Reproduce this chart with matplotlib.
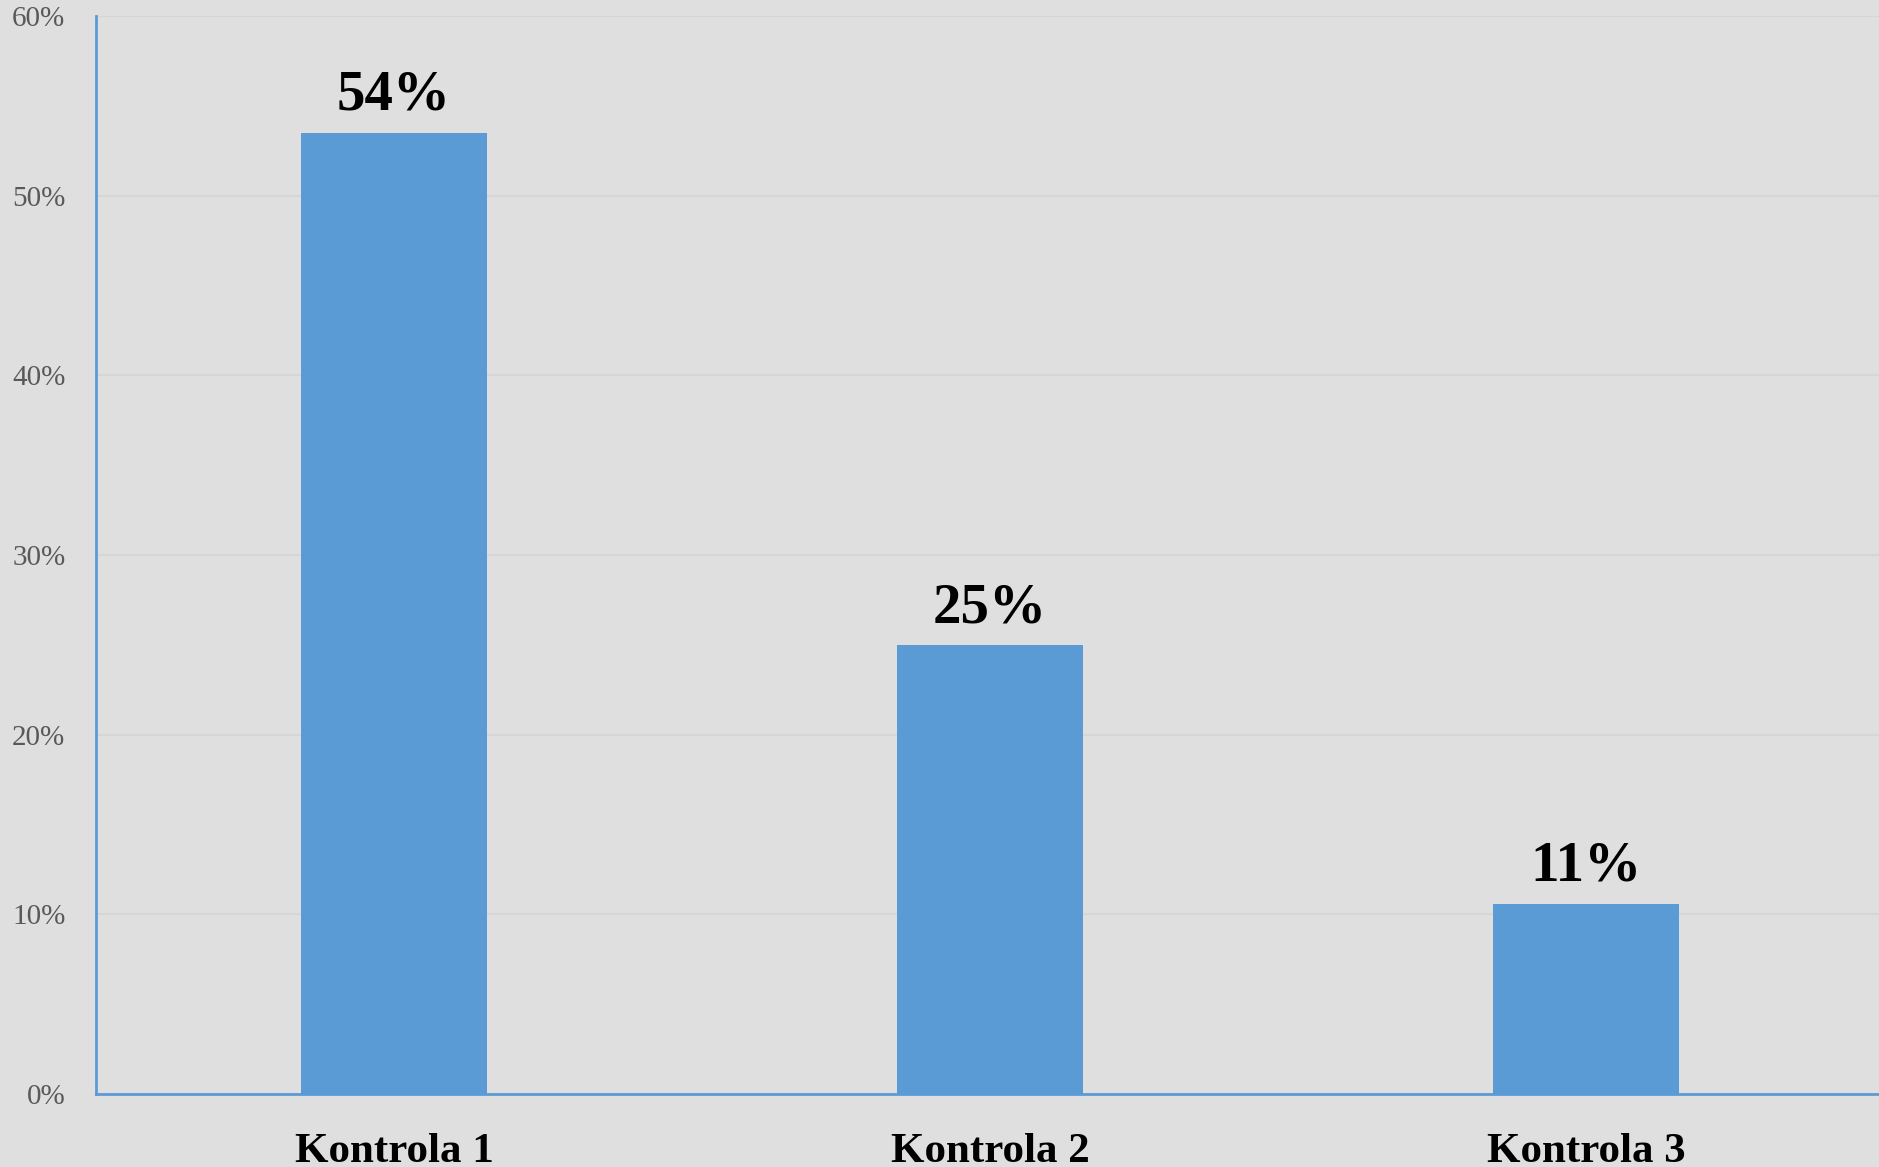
import matplotlib.pyplot as plt
from matplotlib.ticker import PercentFormatter

categories = ["Kontrola 1", "Kontrola 2", "Kontrola 3"]
values = [0.535, 0.25, 0.106]
labels = ["54%", "25%", "11%"]
yticks = [0, 0.1, 0.2, 0.3, 0.4, 0.5, 0.6]

bg = "#dfdfdf"
blue = "#5b9bd5"

plt.rcParams['font.family'] = ['Liberation Serif', 'DejaVu Serif']

fig = plt.figure(figsize=(18.79, 11.67), dpi=100, facecolor=bg)
ax = fig.add_axes([0.0511, 0.0626, 0.9516, 0.9237])
ax.set_facecolor(bg)

x = range(len(categories))
ax.bar(x, values, width=0.312, color=blue, zorder=3)

for xi, v, lab in zip(x, values, labels):
    ax.text(xi, v + 0.006, lab, ha='center', va='bottom',
            fontsize=41, fontweight='bold', color='black')

ax.set_xlim(-0.5, 2.5)
ax.set_ylim(0, 0.6)
ax.set_yticks(yticks)
ax.yaxis.set_major_formatter(PercentFormatter(1.0, decimals=0))
ax.set_xticks(list(x))
ax.set_xticklabels(categories, fontsize=31, fontweight='bold')

ax.tick_params(axis='y', length=0, pad=22, labelsize=21, labelcolor='#595959')
ax.tick_params(axis='x', length=0, pad=28)

ax.grid(axis='y', color='#d6d6d6', linewidth=1.5, zorder=0)
for side in ['top', 'right']:
    ax.spines[side].set_visible(False)
for side in ['left', 'bottom']:
    ax.spines[side].set_color(blue)
    ax.spines[side].set_linewidth(2)
    ax.spines[side].set_zorder(4)

fig.savefig("out.png", dpi=100, facecolor=bg)
